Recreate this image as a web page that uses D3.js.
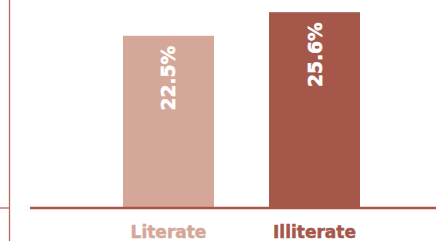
<!DOCTYPE html>
<html>
<head>
<meta charset="utf-8">
<script src="https://cdn.jsdelivr.net/npm/d3@7"></script>
<style>
  html, body { margin: 0; padding: 0; background: #fff; }
  svg { display: block; }
  .cat-label { font-family: "DejaVu Sans", sans-serif; font-weight: bold; font-size: 17px; stroke-width: 0.5px; }
  .val-label { font-family: "DejaVu Sans", sans-serif; font-weight: bold; font-size: 18.7px; fill: #fff; stroke: #fff; stroke-width: 0.5px; }
</style>
</head>
<body>
<div id="chart"></div>
<script>
// ── data
const categories = ['Literate', 'Illiterate'];
const values     = [22.5, 25.6];
const valueText  = ['22.5%', '25.6%'];
const barColors  = ['#d4a799', '#a5584a'];

const W = 436, H = 241;
const baseY = 207;

const svg = d3.select('#chart')
  .append('svg')
    .attr('width', W)
    .attr('height', H);

// scales — 0 sits on the baseline, bars scale linearly from it
const x = d3.scaleBand()
  .domain(categories)
  .range([50, 433])
  .paddingInner(0.377)
  .paddingOuter(0.5)
  .align(0.5);

const y = d3.scaleLinear()
  .domain([0, 27.2])
  .range([baseY, 0]);

const color = d3.scaleOrdinal().domain(categories).range(barColors);

// left divider + small stub (edge of the neighbouring panel)
svg.append('line')
  .attr('x1', 9.5).attr('x2', 9.5)
  .attr('y1', 0).attr('y2', H)
  .attr('stroke', '#b8675a')
  .attr('stroke-width', 1.3);

svg.append('line')
  .attr('x1', 0).attr('x2', 9)
  .attr('y1', 208).attr('y2', 208)
  .attr('stroke', '#b8675a')
  .attr('stroke-width', 1.3);

// bars
svg.append('g')
  .selectAll('rect')
  .data(values)
  .enter()
  .append('rect')
    .attr('x', (d, i) => x(categories[i]))
    .attr('y', d => y(d))
    .attr('width', x.bandwidth())
    .attr('height', d => y(0) - y(d))
    .attr('fill', (d, i) => color(categories[i]));

// baseline
svg.append('line')
  .attr('x1', 30).attr('x2', W)
  .attr('y1', 208).attr('y2', 208)
  .attr('stroke', '#ac5545')
  .attr('stroke-width', 2.3);

// rotated value labels inside the bars
svg.append('g')
  .selectAll('text')
  .data(values)
  .enter()
  .append('text')
    .attr('class', 'val-label')
    .attr('transform', (d, i) =>
      `translate(${x(categories[i]) + x.bandwidth() / 2 + 7},${y(d) + 10}) rotate(-90)`)
    .attr('text-anchor', 'end')
    .text((d, i) => valueText[i]);

// category labels under the baseline
svg.append('g')
  .selectAll('text')
  .data(categories)
  .enter()
  .append('text')
    .attr('class', 'cat-label')
    .attr('x', d => x(d) + x.bandwidth() / 2)
    .attr('y', 238)
    .attr('text-anchor', 'middle')
    .attr('fill', d => color(d))
    .attr('stroke', d => color(d))
    .text(d => d);
</script>
</body>
</html>
